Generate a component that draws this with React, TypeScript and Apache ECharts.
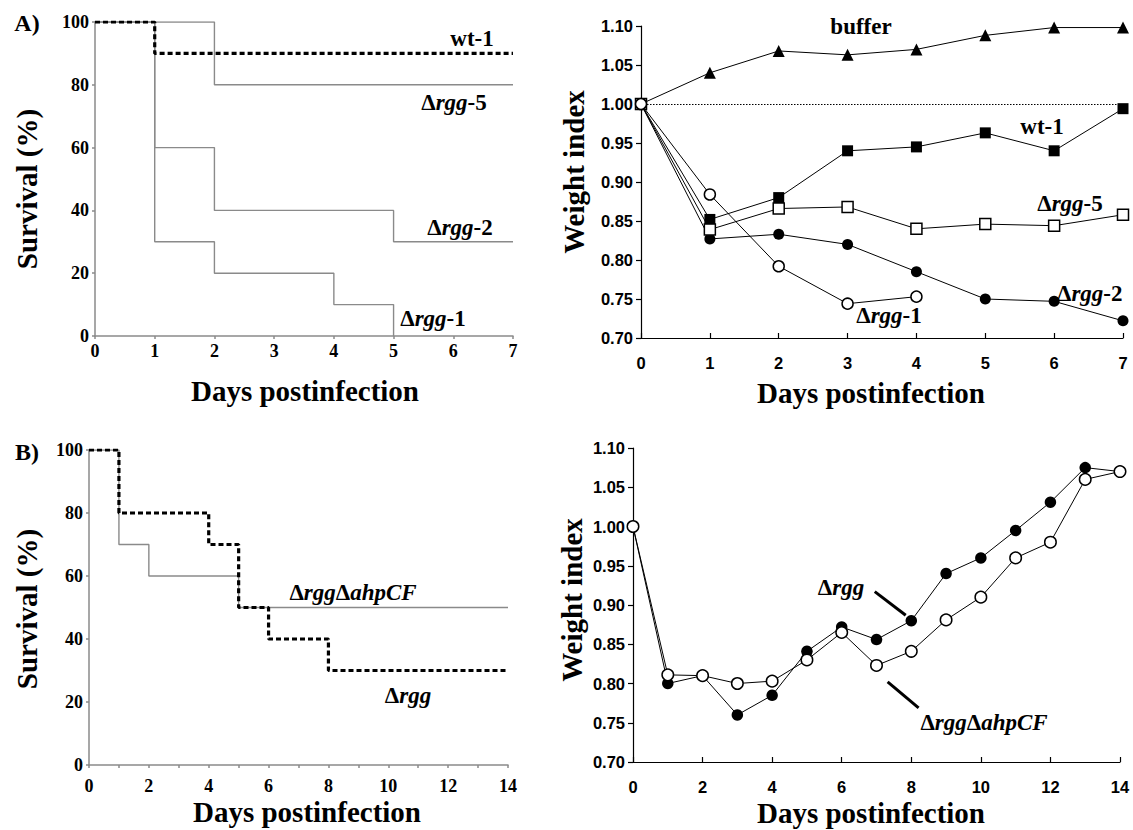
import React, { useEffect, useRef } from "react";
import * as echarts from "echarts";

// ---------- Data ----------
// Panel A (left): survival step curves (change points)
const wt1SurvDays = [0, 1, 7];
const wt1Surv = [100, 90, 90];
const rgg5SurvDays = [0, 2, 7];
const rgg5Surv = [100, 80, 80];
const rgg2SurvDays = [0, 1, 2, 5, 7];
const rgg2Surv = [100, 60, 40, 30, 30];
const rgg1SurvDays = [0, 1, 2, 4, 5];
const rgg1Surv = [100, 30, 20, 10, 0];

// Panel A (right): weight index
const daysA = [0, 1, 2, 3, 4, 5, 6, 7];
const bufferW = [1.0, 1.04, 1.068, 1.063, 1.07, 1.088, 1.098, 1.098];
const wt1W = [1.0, 0.852, 0.88, 0.94, 0.945, 0.963, 0.94, 0.994];
const rgg5W = [1.0, 0.839, 0.866, 0.868, 0.84, 0.846, 0.844, 0.858];
const rgg2W = [1.0, 0.827, 0.833, 0.82, 0.785, 0.75, 0.747, 0.722];
const rgg1W = [1.0, 0.884, 0.792, 0.744, 0.753];

// Panel B (left): survival
const rggSurvDays = [0, 1, 4, 5, 6, 8, 14];
const rggSurv = [100, 80, 70, 50, 40, 30, 30];
const ahpSurvDays = [0, 1, 2, 5, 14];
const ahpSurv = [100, 70, 60, 50, 50];

// Panel B (right): weight index
const daysB = [0, 1, 2, 3, 4, 5, 6, 7, 8, 9, 10, 11, 12, 13, 14];
const rggWB = [1.0, 0.8, 0.81, 0.76, 0.785, 0.841, 0.872, 0.856, 0.88, 0.94, 0.96, 0.995, 1.031, 1.075, 1.07];
const ahpWB = [1.0, 0.811, 0.81, 0.8, 0.803, 0.83, 0.865, 0.823, 0.841, 0.881, 0.91, 0.96, 0.98, 1.06, 1.07];

// Tick settings
const survTicks = { min: 0, max: 100, interval: 20 };
const weightTicks = { min: 0.7, max: 1.1, interval: 0.05 };

const zip = (xs: number[], ys: number[]) => ys.map((y, i) => [xs[i], y]);

const SERIF = "Liberation Serif";
const SANS = "Liberation Sans";
const GRAY = "#8a8a8a";

const LBL = 23;
const labelRich = {
  n: { fontFamily: SERIF, fontWeight: "bold", fontSize: LBL, fill: "#000", color: "#000" },
  i: { fontFamily: SERIF, fontWeight: "bold", fontStyle: "italic", fontSize: LBL, fill: "#000", color: "#000" },
};

function seriesLabel(text: string, x: number, y: number, align = "center") {
  return {
    type: "text",
    x,
    y,
    z: 100,
    style: {
      text,
      rich: labelRich,
      align,
      verticalAlign: "middle",
      fontFamily: SERIF,
      fontWeight: "bold",
      fontSize: LBL,
      fill: "#000",
    },
  };
}

function title(text: string, x: number, y: number, rotate = false, size = 29) {
  return {
    type: "text",
    x,
    y,
    rotation: rotate ? Math.PI / 2 : 0,
    z: 100,
    style: {
      text,
      align: "center",
      verticalAlign: "middle",
      fontFamily: SERIF,
      fontWeight: "bold",
      fontSize: size,
      fill: "#000",
    },
  };
}

export default function App() {
  const ref = useRef<HTMLDivElement>(null);
  useEffect(() => {
    if (!ref.current) return;
    const chart = echarts.init(ref.current, null, { renderer: "svg" });

    const leftAxisLabel = { fontFamily: SERIF, fontWeight: "bold", fontSize: 18, color: "#000" };
    const rightAxisLabel = { fontFamily: SANS, fontWeight: "bold", fontSize: 16.5, color: "#000" };

    const survX = (idx: number, max: number, interval: number, margin: number, minor: boolean) => ({
      type: "value",
      gridIndex: idx,
      min: 0,
      max,
      interval,
      axisLine: { show: true, lineStyle: { color: GRAY, width: 1.5 } },
      axisTick: { show: true, length: 3, lineStyle: { color: GRAY, width: 1.5 } },
      minorTick: minor ? { show: true, splitNumber: 2, length: 3, lineStyle: { color: GRAY, width: 1.5 } } : { show: false },
      splitLine: { show: false },
      axisLabel: { ...leftAxisLabel, margin },
    });
    const survY = (idx: number) => ({
      type: "value",
      gridIndex: idx,
      ...survTicks,
      axisLine: { show: true, lineStyle: { color: GRAY, width: 1.5 } },
      axisTick: { show: true, length: 3, lineStyle: { color: GRAY, width: 1.5 } },
      splitLine: { show: false },
      axisLabel: { ...leftAxisLabel, margin: 6 },
    });
    const wX = (idx: number, max: number, interval: number) => ({
      type: "value",
      gridIndex: idx,
      min: 0,
      max,
      interval,
      axisLine: { show: true, lineStyle: { color: "#000", width: 1.2 } },
      axisTick: { show: true, length: 5, inside: true, lineStyle: { color: "#000", width: 1.2 } },
      splitLine: { show: false },
      axisLabel: { ...rightAxisLabel, margin: 16 },
    });
    const wY = (idx: number) => ({
      type: "value",
      gridIndex: idx,
      ...weightTicks,
      axisLine: { show: true, lineStyle: { color: "#000", width: 1.2 } },
      axisTick: { show: true, length: 5, lineStyle: { color: "#000", width: 1.2 } },
      splitLine: { show: false },
      axisLabel: { ...rightAxisLabel, margin: 8, formatter: (v: number) => v.toFixed(2) },
    });

    const grayStep = (name: string, days: number[], vals: number[], xi: number) => ({
      name,
      type: "line",
      step: "end",
      xAxisIndex: xi,
      yAxisIndex: xi,
      data: zip(days, vals),
      symbol: "none",
      lineStyle: { color: GRAY, width: 1.4 },
      z: 2,
    });
    const dashStep = (name: string, days: number[], vals: number[], xi: number) => ({
      name,
      type: "line",
      step: "end",
      xAxisIndex: xi,
      yAxisIndex: xi,
      data: zip(days, vals),
      symbol: "none",
      lineStyle: { color: "#000", width: 3.2, type: [5, 3] },
      z: 3,
    });
    const wLine = (name: string, days: number[], vals: number[], xi: number, symbol: string, size: number, open: boolean, extra: any = {}) => ({
      name,
      type: "line",
      xAxisIndex: xi,
      yAxisIndex: xi,
      data: zip(days, vals),
      symbol,
      symbolSize: size,
      showAllSymbol: true,
      lineStyle: { color: "#000", width: 1 },
      itemStyle: { color: open ? "#fff" : "#000", borderColor: "#000", borderWidth: open ? 1.5 : 0 },
      z: open ? 4 : 3,
      ...extra,
    });

    const dottedOne = {
      markLine: {
        silent: true,
        symbol: "none",
        label: { show: false },
        lineStyle: { color: "#000", width: 1, type: [1.5, 1.5] },
        data: [{ yAxis: 1 }],
        z: 1,
      },
    };

    const callouts = {
      markLine: {
        silent: true,
        symbol: "none",
        label: { show: false },
        lineStyle: { color: "#000", width: 3, type: "solid" },
        data: [
          [{ coord: [6.95, 0.917] }, { coord: [7.84, 0.887] }],
          [{ coord: [7.32, 0.802] }, { coord: [8.21, 0.769] }],
        ],
      },
    };

    chart.setOption({
      animation: false,
      backgroundColor: "#fff",
      grid: [
        { left: 95, top: 22, width: 418, height: 314 },
        { left: 641, top: 26, width: 482, height: 312 },
        { left: 89, top: 450, width: 419, height: 315 },
        { left: 633, top: 448, width: 487, height: 314 },
      ],
      xAxis: [survX(0, 7, 1, 6, false), wX(1, 7, 1), survX(2, 14, 2, 12, true), wX(3, 14, 2)],
      yAxis: [survY(0), wY(1), survY(2), wY(3)],
      series: [
        grayStep("Δrgg-5", rgg5SurvDays, rgg5Surv, 0),
        grayStep("Δrgg-2", rgg2SurvDays, rgg2Surv, 0),
        grayStep("Δrgg-1", rgg1SurvDays, rgg1Surv, 0),
        dashStep("wt-1", wt1SurvDays, wt1Surv, 0),

        wLine("buffer", daysA, bufferW, 1, "triangle", 12, false, dottedOne),
        wLine("wt-1", daysA, wt1W, 1, "rect", 11, false),
        wLine("Δrgg-5", daysA, rgg5W, 1, "rect", 11, true),
        wLine("Δrgg-2", daysA, rgg2W, 1, "circle", 11, false),
        wLine("Δrgg-1", daysA.slice(0, rgg1W.length), rgg1W, 1, "circle", 11, true),

        grayStep("ΔrggΔahpCF", ahpSurvDays, ahpSurv, 2),
        dashStep("Δrgg", rggSurvDays, rggSurv, 2),

        wLine("Δrgg", daysB, rggWB, 3, "circle", 11.5, false, { ...dottedOne, ...callouts }),
        wLine("ΔrggΔahpCF", daysB, ahpWB, 3, "circle", 11.5, true),
      ],
      graphic: [
        title("A)", 27, 23, false, 24),
        title("B)", 27, 452, false, 24),
        title("Survival (%)", 27, 189, true),
        title("Days postinfection", 305, 391),
        title("Weight index", 574, 172, true),
        title("Days postinfection", 871, 393),
        title("Survival (%)", 27, 609, true),
        title("Days postinfection", 307, 812),
        title("Weight index", 572, 600, true),
        title("Days postinfection", 871, 813),

        seriesLabel("{n|wt-1}", 472, 38),
        seriesLabel("{n|Δ}{i|rgg}{n|-5}", 454, 102),
        seriesLabel("{n|Δ}{i|rgg}{n|-2}", 460, 227),
        seriesLabel("{n|Δ}{i|rgg}{n|-1}", 433, 318),

        seriesLabel("{n|buffer}", 861, 26),
        seriesLabel("{n|wt-1}", 1042, 126),
        seriesLabel("{n|Δ}{i|rgg}{n|-5}", 1070, 203),
        seriesLabel("{n|Δ}{i|rgg}{n|-2}", 1057, 293, "left"),
        seriesLabel("{n|Δ}{i|rgg}{n|-1}", 889, 315),

        seriesLabel("{n|Δ}{i|rgg}{n|Δ}{i|ahpCF}", 353, 592),
        seriesLabel("{n|Δ}{i|rgg}", 408, 695),

        seriesLabel("{n|Δ}{i|rgg}", 841, 587),
        seriesLabel("{n|Δ}{i|rgg}{n|Δ}{i|ahpCF}", 984, 722),
      ],
    });
    return () => chart.dispose();
  }, []);
  return <div ref={ref} style={{ position: "absolute", left: 0, top: 0, width: 1133, height: 830 }} />;
}
